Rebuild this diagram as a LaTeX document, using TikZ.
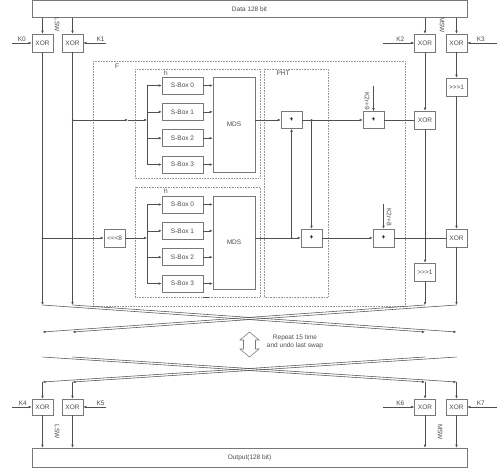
\documentclass[tikz,border=0pt]{standalone}
\usepackage{fontspec}
\setmainfont{Liberation Sans}
\usetikzlibrary{arrows.meta,positioning}
\definecolor{wire}{RGB}{80,80,80}
\definecolor{boxc}{RGB}{120,120,120}
\definecolor{dotc}{RGB}{150,150,150}
\definecolor{txt}{RGB}{75,75,75}
\newcommand\dgfont{\fontsize{6.5}{8}\selectfont}

\begin{document}
\begin{tikzpicture}[
  x=1pt, y=-1pt, >={Latex[length=3pt,width=2.6pt]},
  color=wire, text=txt, line width=0.55pt, node distance=8.8pt,
  box/.style={draw=boxc, fill=white, align=center, inner sep=0pt, font=\dgfont,
              minimum width=21pt, minimum height=18pt},
  sbox/.style={box, minimum width=41pt, minimum height=17pt},
  mds/.style={box, minimum width=42pt},
  plus/.style={box, minimum height=17pt, font=\dgfont\bfseries, text=black},
  frame/.style={draw=dotc, dash pattern=on 0.5pt off 1.1pt},
  lbl/.style={font=\dgfont, inner sep=1pt},
  dot/.style={circle, fill=wire, inner sep=0pt, minimum size=2pt}
]
\useasboundingbox (0,0) rectangle (500,468);

% dotted frames F, h, h, PHT
\draw[frame] (93,61) rectangle (405,306);
\node[lbl] (flbl) at (117,66) {F};
\draw[frame] (135,69) rectangle (260,178);
\node[lbl] (hAlbl) at (166,73) {h};
\draw[frame] (135,187) rectangle (260,297);
\node[lbl] (hBlbl) at (166,191) {h};
\draw[frame] (264,69) rectangle (328,297);
\node[lbl] (phtlbl) at (283,73) {PHT};
\draw (203,297.5) -- (209,297.5);

% input whitening
\node[box, minimum width=435pt, minimum height=17pt] (data) at (249.5,9) {Data 128 bit};
\node[box] (xor0) at (42.5,43) {XOR};
\node[box] (xor1) at (72.5,43) {XOR};
\node[box] (xor2) at (425,43) {XOR};
\node[box] (xor3) at (456.5,43) {XOR};
\node[lbl, rotate=-90] (lswA) at (57,25) {LSW};
\node[lbl, rotate=-90] (mswA) at (442,25) {MSW};

% upper h
\node[sbox] (sa0) at (182.5,85.5) {S-Box 0};
\node[sbox, below=of sa0] (sa1) {S-Box 1};
\node[sbox, below=of sa1] (sa2) {S-Box 2};
\node[sbox, below=of sa2] (sa3) {S-Box 3};
\node[mds, minimum height=95pt] (mdsA) at (234,124.5) {MDS};

% lower h
\node[box] (rol) at (114.5,238) {<{}<{}<8};
\node[sbox] (sb0) at (182.5,204.5) {S-Box 0};
\node[sbox, below=of sb0] (sb1) {S-Box 1};
\node[sbox, below=of sb1] (sb2) {S-Box 2};
\node[sbox, below=of sb2] (sb3) {S-Box 3};
\node[mds, minimum height=93pt] (mdsB) at (234,242.5) {MDS};

% PHT and round keys
\node[plus] (addA) at (291.5,120) {+};
\node[plus] (addB) at (373.5,120) {+};
\node[box] (xorA) at (425,120) {XOR};
\node[box] (rorA) at (456.5,87) {>{}>{}>1};
\node[plus, minimum height=18pt] (addC) at (311.5,238) {+};
\node[plus, minimum height=18pt] (addD) at (383.5,238) {+};
\node[box] (xorB) at (456.5,238) {XOR};
\node[box] (rorB) at (425,272) {>{}>{}>1};
\node[lbl, rotate=-90] (kAlbl) at (367,101) {K2r+9};
\node[lbl, rotate=-90] (kBlbl) at (389,217) {K2r+8};

% swap points
\coordinate (a0) at (42.5,305);  \coordinate (a1) at (72.5,305);
\coordinate (a2) at (425,305);   \coordinate (a3) at (456.5,305);
\coordinate (b0) at (42.5,332);  \coordinate (b1) at (72.5,332);
\coordinate (b2) at (425,332);   \coordinate (b3) at (456.5,332);
\coordinate (c0) at (42.5,357);  \coordinate (c1) at (72.5,357);
\coordinate (c2) at (425,357);   \coordinate (c3) at (456.5,357);
\coordinate (d0) at (42.5,382);  \coordinate (d1) at (72.5,382);
\coordinate (d2) at (425,382);   \coordinate (d3) at (456.5,382);
\coordinate (inA) at (147,120);  \coordinate (fA) at (128,120);
\coordinate (inB) at (147,238);
\coordinate (kA) at (373.5,86);  \coordinate (kB) at (383.5,204);

% output whitening
\node[box, minimum height=16pt] (xor4) at (42.5,407) {XOR};
\node[box, minimum height=16pt] (xor5) at (72.5,407) {XOR};
\node[box, minimum height=16pt] (xor6) at (425,407) {XOR};
\node[box, minimum height=16pt] (xor7) at (456.5,407) {XOR};
\node[box, minimum width=435pt, minimum height=19pt] (out) at (249.5,457.5) {Output(128 bit)};
\node[lbl, rotate=-90] (lswB) at (57,432) {LSW};
\node[lbl, rotate=-90] (mswB) at (440,432) {MSW};

% key inputs
\draw[<-] (xor0.west) -- ++(-20,0) node[lbl,above,midway]{K0};
\draw[<-] (xor1.east) -- ++(23,0) node[lbl,above,pos=0.75]{K1};
\draw[<-] (xor2.west) -- ++(-31,0) node[lbl,above,pos=0.45]{K2};
\draw[<-] (xor3.east) -- ++(30,0) node[lbl,above,pos=0.45]{K3};
\draw[<-] (xor4.west) -- ++(-20,0) node[lbl,above,pos=0.45]{K4};
\draw[<-] (xor5.east) -- ++(23,0) node[lbl,above,pos=0.75]{K5};
\draw[<-] (xor6.west) -- ++(-31,0) node[lbl,above,pos=0.45]{K6};
\draw[<-] (xor7.east) -- ++(30,0) node[lbl,above,pos=0.45]{K7};

% data into whitening
\draw[->] (xor0 |- data.south) -- (xor0);
\draw[->] (xor1 |- data.south) -- (xor1);
\draw[->] (xor2 |- data.south) -- (xor2);
\draw[->] (xor3 |- data.south) -- (xor3);

% left words
\draw[->] (xor0) -- (a0);
\draw[->] (xor1) -- (a1);
\draw[->] (xor1 |- addA) -- (fA);
\draw[->] (fA) -- (inA);
\node[dot] (jA) at (xor1 |- addA) {};
\draw[->] (xor0 |- rol) -- (rol);
\draw[->] (rol) -- (inB);
\node[dot] (jB) at (xor0 |- rol) {};

% h functions
\draw (inA |- sa0) -- (inA |- sa3);
\draw[->] (inA |- sa0) -- (sa0);
\draw[->] (inA |- sa1) -- (sa1);
\draw[->] (inA |- sa2) -- (sa2);
\draw[->] (inA |- sa3) -- (sa3);
\draw[->] (sa0) -- (sa0 -| mdsA.west);
\draw[->] (sa1) -- (sa1 -| mdsA.west);
\draw[->] (sa2) -- (sa2 -| mdsA.west);
\draw[->] (sa3) -- (sa3 -| mdsA.west);
\draw (inB |- sb0) -- (inB |- sb3);
\draw[->] (inB |- sb0) -- (sb0);
\draw[->] (inB |- sb1) -- (sb1);
\draw[->] (inB |- sb2) -- (sb2);
\draw[->] (inB |- sb3) -- (sb3);
\draw[->] (sb0) -- (sb0 -| mdsB.west);
\draw[->] (sb1) -- (sb1 -| mdsB.west);
\draw[->] (sb2) -- (sb2 -| mdsB.west);
\draw[->] (sb3) -- (sb3 -| mdsB.west);

% PHT
\draw[->] (mdsA.east |- addA) -- (addA);
\draw[->] (mdsB.east |- addC) -- (addC);
\draw[->] (addA) -- (addB);
\draw[->] (addC |- addA) -- (addC);
\node[dot] (jC) at (addC |- addA) {};
\draw[->] (addA |- addC) -- (addA);
\node[dot] (jD) at (addA |- addC) {};
\draw[->] (addC) -- (addD);
\draw[->] (kA) -- (addB);
\draw[->] (kB) -- (addD);
\draw (addB) -- (xorA);
\draw (addD) -- (xorB);

% right words
\draw[->] (xor2) -- (xorA);
\draw[->] (xorA) -- (rorB);
\draw[->] (rorB) -- (a2);
\draw[->] (xor3) -- (rorA);
\draw[->] (rorA) -- (xorB);
\draw[->] (xorB) -- (a3);

% swap, repeat, undo swap
\draw[->] (a0) -- (b2);
\draw[->] (a1) -- (b3);
\draw[->] (a2) -- (b0);
\draw[->] (a3) -- (b1);
\draw[draw=boxc] (249.5,332) -- (259,340) -- (255.5,340) -- (255.5,349) -- (259,349)
      -- (249.5,357) -- (240,349) -- (243.5,349) -- (243.5,340) -- (240,340) -- cycle;
\node[lbl, align=center] (rep) at (295,341.5) {Repeat 15 time\\and undo last swap};
\draw[->] (c0) -- (d2);
\draw[->] (c1) -- (d3);
\draw[->] (c2) -- (d0);
\draw[->] (c3) -- (d1);

% output
\draw[->] (d0) -- (xor4);
\draw[->] (d1) -- (xor5);
\draw[->] (d2) -- (xor6);
\draw[->] (d3) -- (xor7);
\draw[->] (xor4) -- (xor4 |- out.north);
\draw[->] (xor5) -- (xor5 |- out.north);
\draw[->] (xor6) -- (xor6 |- out.north);
\draw[->] (xor7) -- (xor7 |- out.north);
\end{tikzpicture}
\end{document}
